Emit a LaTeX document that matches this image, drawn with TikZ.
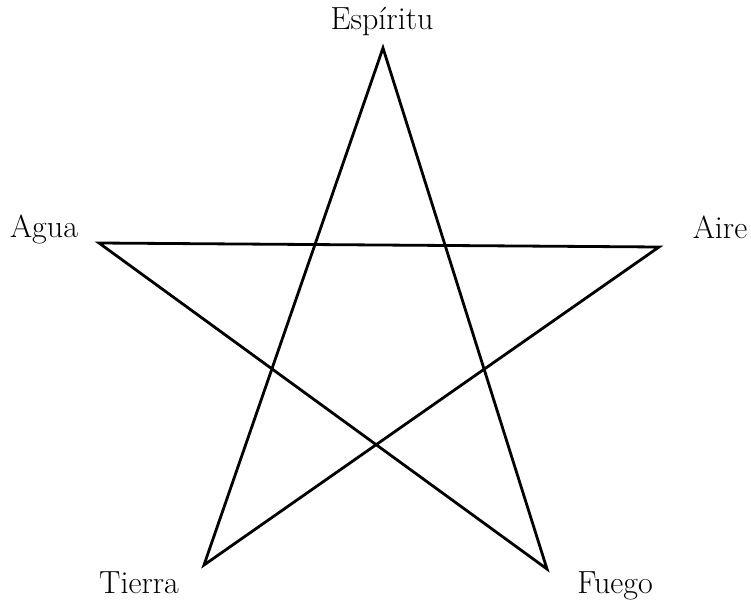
\documentclass[tikz,border=0pt]{standalone}
\usepackage{fontspec}
\begin{document}
\begin{tikzpicture}[x=1pt,y=-1pt,
  edge/.style={line width=2.8pt,line join=miter},
  lbl/.style={font=\fontsize{32}{36}\selectfont,inner sep=0pt,anchor=base}]
\useasboundingbox (0,0) rectangle (751,602);
\coordinate (E) at (383,48);
\coordinate (A) at (99,243);
\coordinate (I) at (659,247);
\coordinate (T) at (204,565);
\coordinate (F) at (547,569);
\draw[edge] (E) -- (T) -- (I) -- (A) -- (F) -- cycle;
\node[lbl] (le) at (382,30) {Espíritu};
\node[lbl] (la) at (44,237) {Agua};
\node[lbl] (li) at (720,238) {Aire};
\node[lbl] (lt) at (139,593) {Tierra};
\node[lbl] (lf) at (615,593) {Fuego};
\end{tikzpicture}
\end{document}
